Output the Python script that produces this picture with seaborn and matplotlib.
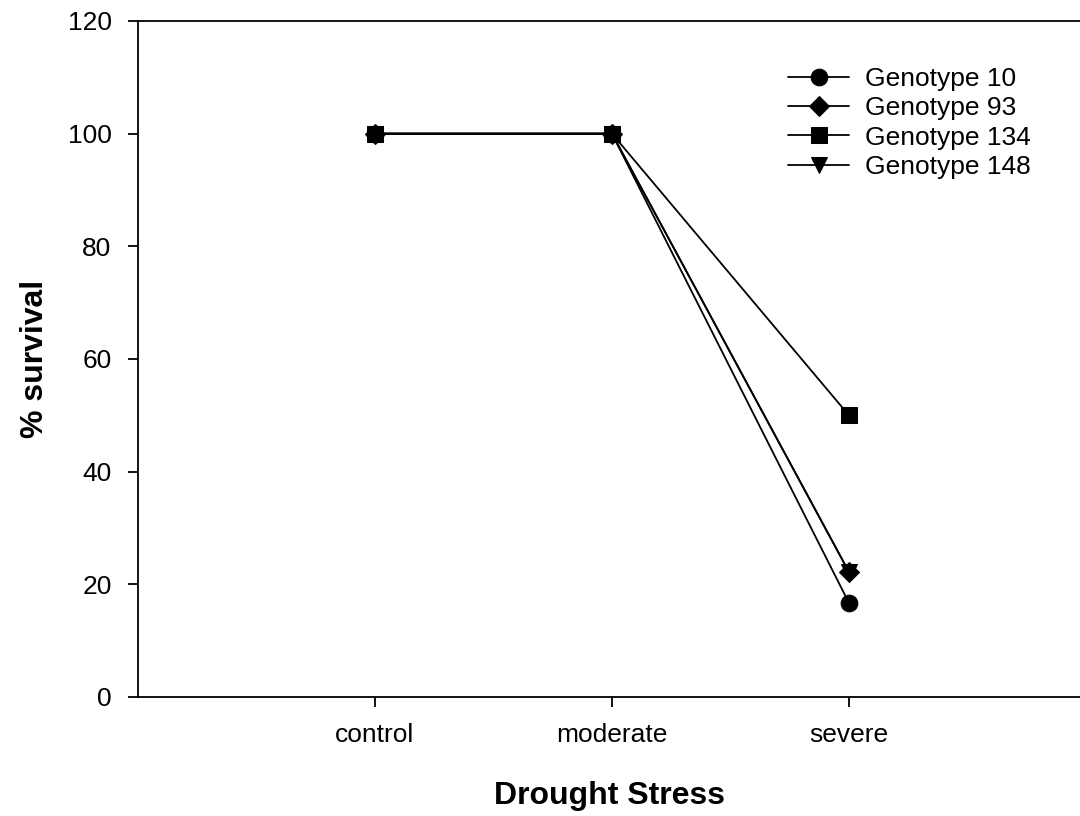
import matplotlib
matplotlib.use("Agg")
import matplotlib.pyplot as plt
import seaborn as sns
import pandas as pd

categories = ["control", "moderate", "severe"]
genotypes = ["Genotype 10", "Genotype 93", "Genotype 134", "Genotype 148"]
g10 = [100, 100, 16.7]
g93 = [100, 100, 22.2]
g134 = [100, 100, 50.0]
g148 = [100, 100, 22.2]
yticks = [0, 20, 40, 60, 80, 100, 120]

rows = []
for name, vals in zip(genotypes, [g10, g93, g134, g148]):
    for c, v in zip(categories, vals):
        rows.append({"stress": c, "survival": v, "genotype": name})
df = pd.DataFrame(rows)

sns.set_style("ticks")
plt.rcParams["font.family"] = ["Liberation Sans", "DejaVu Sans"]
plt.rcParams["text.color"] = "black"
plt.rcParams["axes.labelcolor"] = "black"

fig = plt.figure(figsize=(10.8, 8.16), dpi=100)
ax = fig.add_axes([138/1080, (816-697)/816, 942/1080, (697-21)/816])

markers = {"Genotype 10": "o", "Genotype 93": "D", "Genotype 134": "s", "Genotype 148": "v"}
sizes = {"Genotype 10": 12, "Genotype 93": 10, "Genotype 134": 11, "Genotype 148": 12}
order = ["Genotype 148", "Genotype 134", "Genotype 10", "Genotype 93"]
for g in order:
    sub = df[df["genotype"] == g]
    sns.lineplot(data=sub, x="stress", y="survival", ax=ax, color="black",
                 marker=markers[g], markersize=sizes[g], linewidth=1.3,
                 markeredgecolor="black", label=g, sort=False)

ax.set_xlim(-1, 2.975)
ax.set_ylim(0, 120)
ax.set_yticks(yticks)
ax.set_xticks(range(len(categories)))
ax.set_xticklabels(categories)
for s in ["left", "bottom", "top"]:
    ax.spines[s].set_linewidth(1.3)
    ax.spines[s].set_color("black")
ax.spines["right"].set_visible(False)
ax.tick_params(axis="both", direction="out", length=7, width=1.3, labelsize=19,
               colors="black", labelcolor="black")
ax.tick_params(axis="x", pad=12)
ax.tick_params(axis="y", pad=12)
ax.set_xlabel("Drought Stress", fontsize=23, fontweight="bold", labelpad=24, color="black")
ax.set_ylabel("% survival", fontsize=23, fontweight="bold", labelpad=13, color="black")

handles, labels = ax.get_legend_handles_labels()
hmap = dict(zip(labels, handles))
ax.legend([hmap[g] for g in genotypes], genotypes, loc="upper left",
          bbox_to_anchor=(0.665, 0.967), frameon=False, fontsize=19,
          handlelength=2.3, labelspacing=0.2, handletextpad=0.6)

fig.savefig("out.png", dpi=100)
